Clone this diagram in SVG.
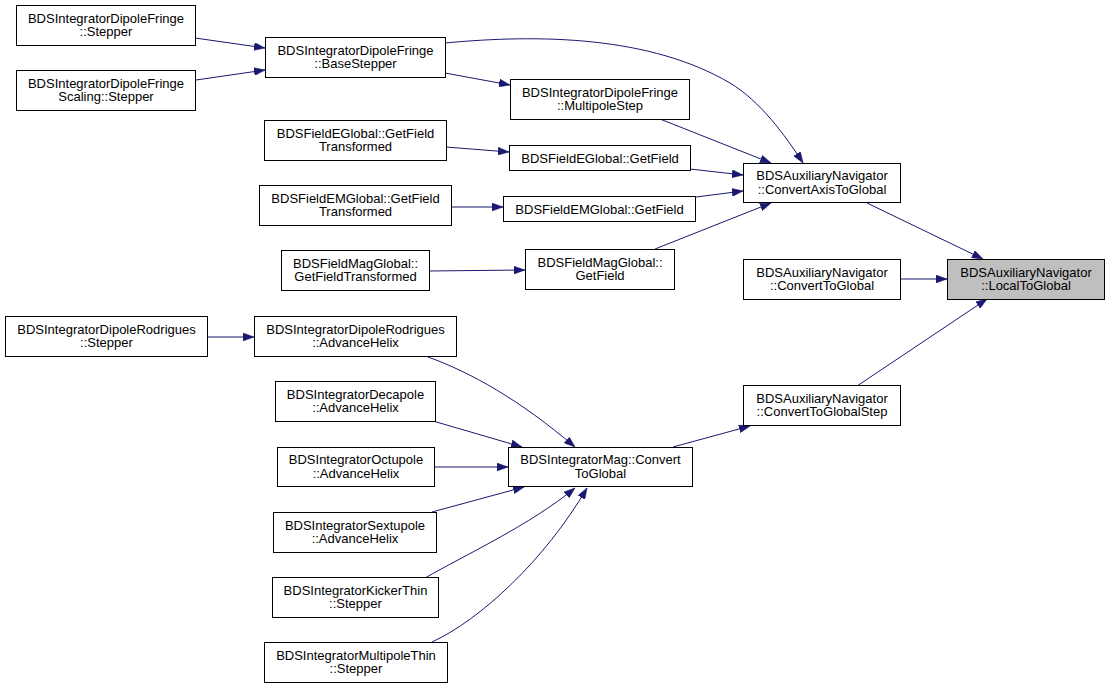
<svg xmlns="http://www.w3.org/2000/svg" width="1109" height="689" viewBox="0 0 1109 689">
<style>
.n rect{fill:#fff;stroke:#000;stroke-width:1}
.n.h rect{fill:#bfbfbf}
.n text{font-family:"Liberation Sans",Arial,sans-serif;font-size:13px;fill:#000;text-anchor:middle}
.e path{fill:none;stroke:#191970;stroke-width:1;marker-end:url(#ah)}
</style>
<defs>
<marker id="ah" markerUnits="userSpaceOnUse" markerWidth="11" markerHeight="8" refX="11" refY="4" orient="auto">
<path d="M0,0 L11,4 L0,8 z" fill="#191970" stroke="#191970" stroke-width="0.5"/>
</marker>
</defs>
<rect width="1109" height="689" fill="#fff"/>
<g id="edges" class="e">
<path d="M195,38 L265,48"/>
<path d="M196,80 L265,70"/>
<path d="M445,73 L510,85"/>
<path d="M445,43 C540,34 650,36 730,83 C760,101 785,135 803,163"/>
<path d="M660,119 L771,163"/>
<path d="M690,169 L743,175"/>
<path d="M696,197 L743,191"/>
<path d="M655,249 L771,203"/>
<path d="M446,147 L509,152"/>
<path d="M451,207 L503,207"/>
<path d="M429,271 L525,270"/>
<path d="M867,203 L983,259"/>
<path d="M900,279 L947,279"/>
<path d="M857,386 L987,299"/>
<path d="M673,447 L750,426"/>
<path d="M207,337 L254,337"/>
<path d="M428,357 C470,372 520,400 575,447"/>
<path d="M433,421 L522,447"/>
<path d="M434,467 L508,467"/>
<path d="M432,512 L524,487"/>
<path d="M425,578 C465,555 530,525 575,488"/>
<path d="M432,642 C480,620 545,560 587,488"/>
</g>
<g id="n1" class="n"><rect x="16.5" y="5.5" width="179" height="40"/><text x="106" y="22.5">BDSIntegratorDipoleFringe</text><text x="106" y="36">::Stepper</text></g>
<g id="n2" class="n"><rect x="16.5" y="70.5" width="179" height="40"/><text x="106" y="87.5">BDSIntegratorDipoleFringe</text><text x="106" y="101">Scaling::Stepper</text></g>
<g id="n3" class="n"><rect x="265.5" y="37.5" width="180" height="40"/><text x="355.5" y="54.5">BDSIntegratorDipoleFringe</text><text x="355.5" y="68">::BaseStepper</text></g>
<g id="n4" class="n"><rect x="510.5" y="79.5" width="179" height="40"/><text x="600" y="96.5">BDSIntegratorDipoleFringe</text><text x="600" y="110">::MultipoleStep</text></g>
<g id="n5" class="n"><rect x="264.5" y="120.5" width="182" height="40"/><text x="355.5" y="137.5">BDSFieldEGlobal::GetField</text><text x="355.5" y="151">Transformed</text></g>
<g id="n6" class="n"><rect x="509.5" y="145.5" width="181" height="25"/><text x="600" y="162.5">BDSFieldEGlobal::GetField</text></g>
<g id="n7" class="n"><rect x="259.5" y="185.5" width="192" height="40"/><text x="355.5" y="202.5">BDSFieldEMGlobal::GetField</text><text x="355.5" y="216">Transformed</text></g>
<g id="n8" class="n"><rect x="503.5" y="196.5" width="192" height="25"/><text x="599.5" y="213.5">BDSFieldEMGlobal::GetField</text></g>
<g id="n9" class="n"><rect x="281.5" y="250.5" width="148" height="40"/><text x="355.5" y="267.5">BDSFieldMagGlobal::</text><text x="355.5" y="281">GetFieldTransformed</text></g>
<g id="n10" class="n"><rect x="525.5" y="249.5" width="149" height="40"/><text x="600" y="266.5">BDSFieldMagGlobal::</text><text x="600" y="280">GetField</text></g>
<g id="n11" class="n"><rect x="743.5" y="163.5" width="157" height="39"/><text x="822" y="180">BDSAuxiliaryNavigator</text><text x="822" y="193.5">::ConvertAxisToGlobal</text></g>
<g id="n12" class="n"><rect x="743.5" y="259.5" width="157" height="40"/><text x="822" y="276.5">BDSAuxiliaryNavigator</text><text x="822" y="290">::ConvertToGlobal</text></g>
<g id="n13" class="n h"><rect x="947.5" y="259.5" width="157" height="40"/><text x="1026" y="276.5">BDSAuxiliaryNavigator</text><text x="1026" y="290">::LocalToGlobal</text></g>
<g id="n14" class="n"><rect x="5.5" y="316.5" width="202" height="40"/><text x="106.5" y="333.5">BDSIntegratorDipoleRodrigues</text><text x="106.5" y="347">::Stepper</text></g>
<g id="n15" class="n"><rect x="254.5" y="316.5" width="202" height="40"/><text x="355.5" y="333.5">BDSIntegratorDipoleRodrigues</text><text x="355.5" y="347">::AdvanceHelix</text></g>
<g id="n16" class="n"><rect x="275.5" y="381.5" width="160" height="40"/><text x="355.5" y="398.5">BDSIntegratorDecapole</text><text x="355.5" y="412">::AdvanceHelix</text></g>
<g id="n17" class="n"><rect x="743.5" y="385.5" width="157" height="40"/><text x="822" y="402.5">BDSAuxiliaryNavigator</text><text x="822" y="416">::ConvertToGlobalStep</text></g>
<g id="n18" class="n"><rect x="508.5" y="447.5" width="184" height="39"/><text x="600.5" y="464">BDSIntegratorMag::Convert</text><text x="600.5" y="477.5">ToGlobal</text></g>
<g id="n19" class="n"><rect x="277.5" y="447.5" width="157" height="39"/><text x="356" y="464">BDSIntegratorOctupole</text><text x="356" y="477.5">::AdvanceHelix</text></g>
<g id="n20" class="n"><rect x="273.5" y="512.5" width="163" height="40"/><text x="355" y="529.5">BDSIntegratorSextupole</text><text x="355" y="543">::AdvanceHelix</text></g>
<g id="n21" class="n"><rect x="272.5" y="577.5" width="166" height="40"/><text x="355.5" y="594.5">BDSIntegratorKickerThin</text><text x="355.5" y="608">::Stepper</text></g>
<g id="n22" class="n"><rect x="264.5" y="642.5" width="183" height="40"/><text x="356" y="659.5">BDSIntegratorMultipoleThin</text><text x="356" y="673">::Stepper</text></g>
</svg>
